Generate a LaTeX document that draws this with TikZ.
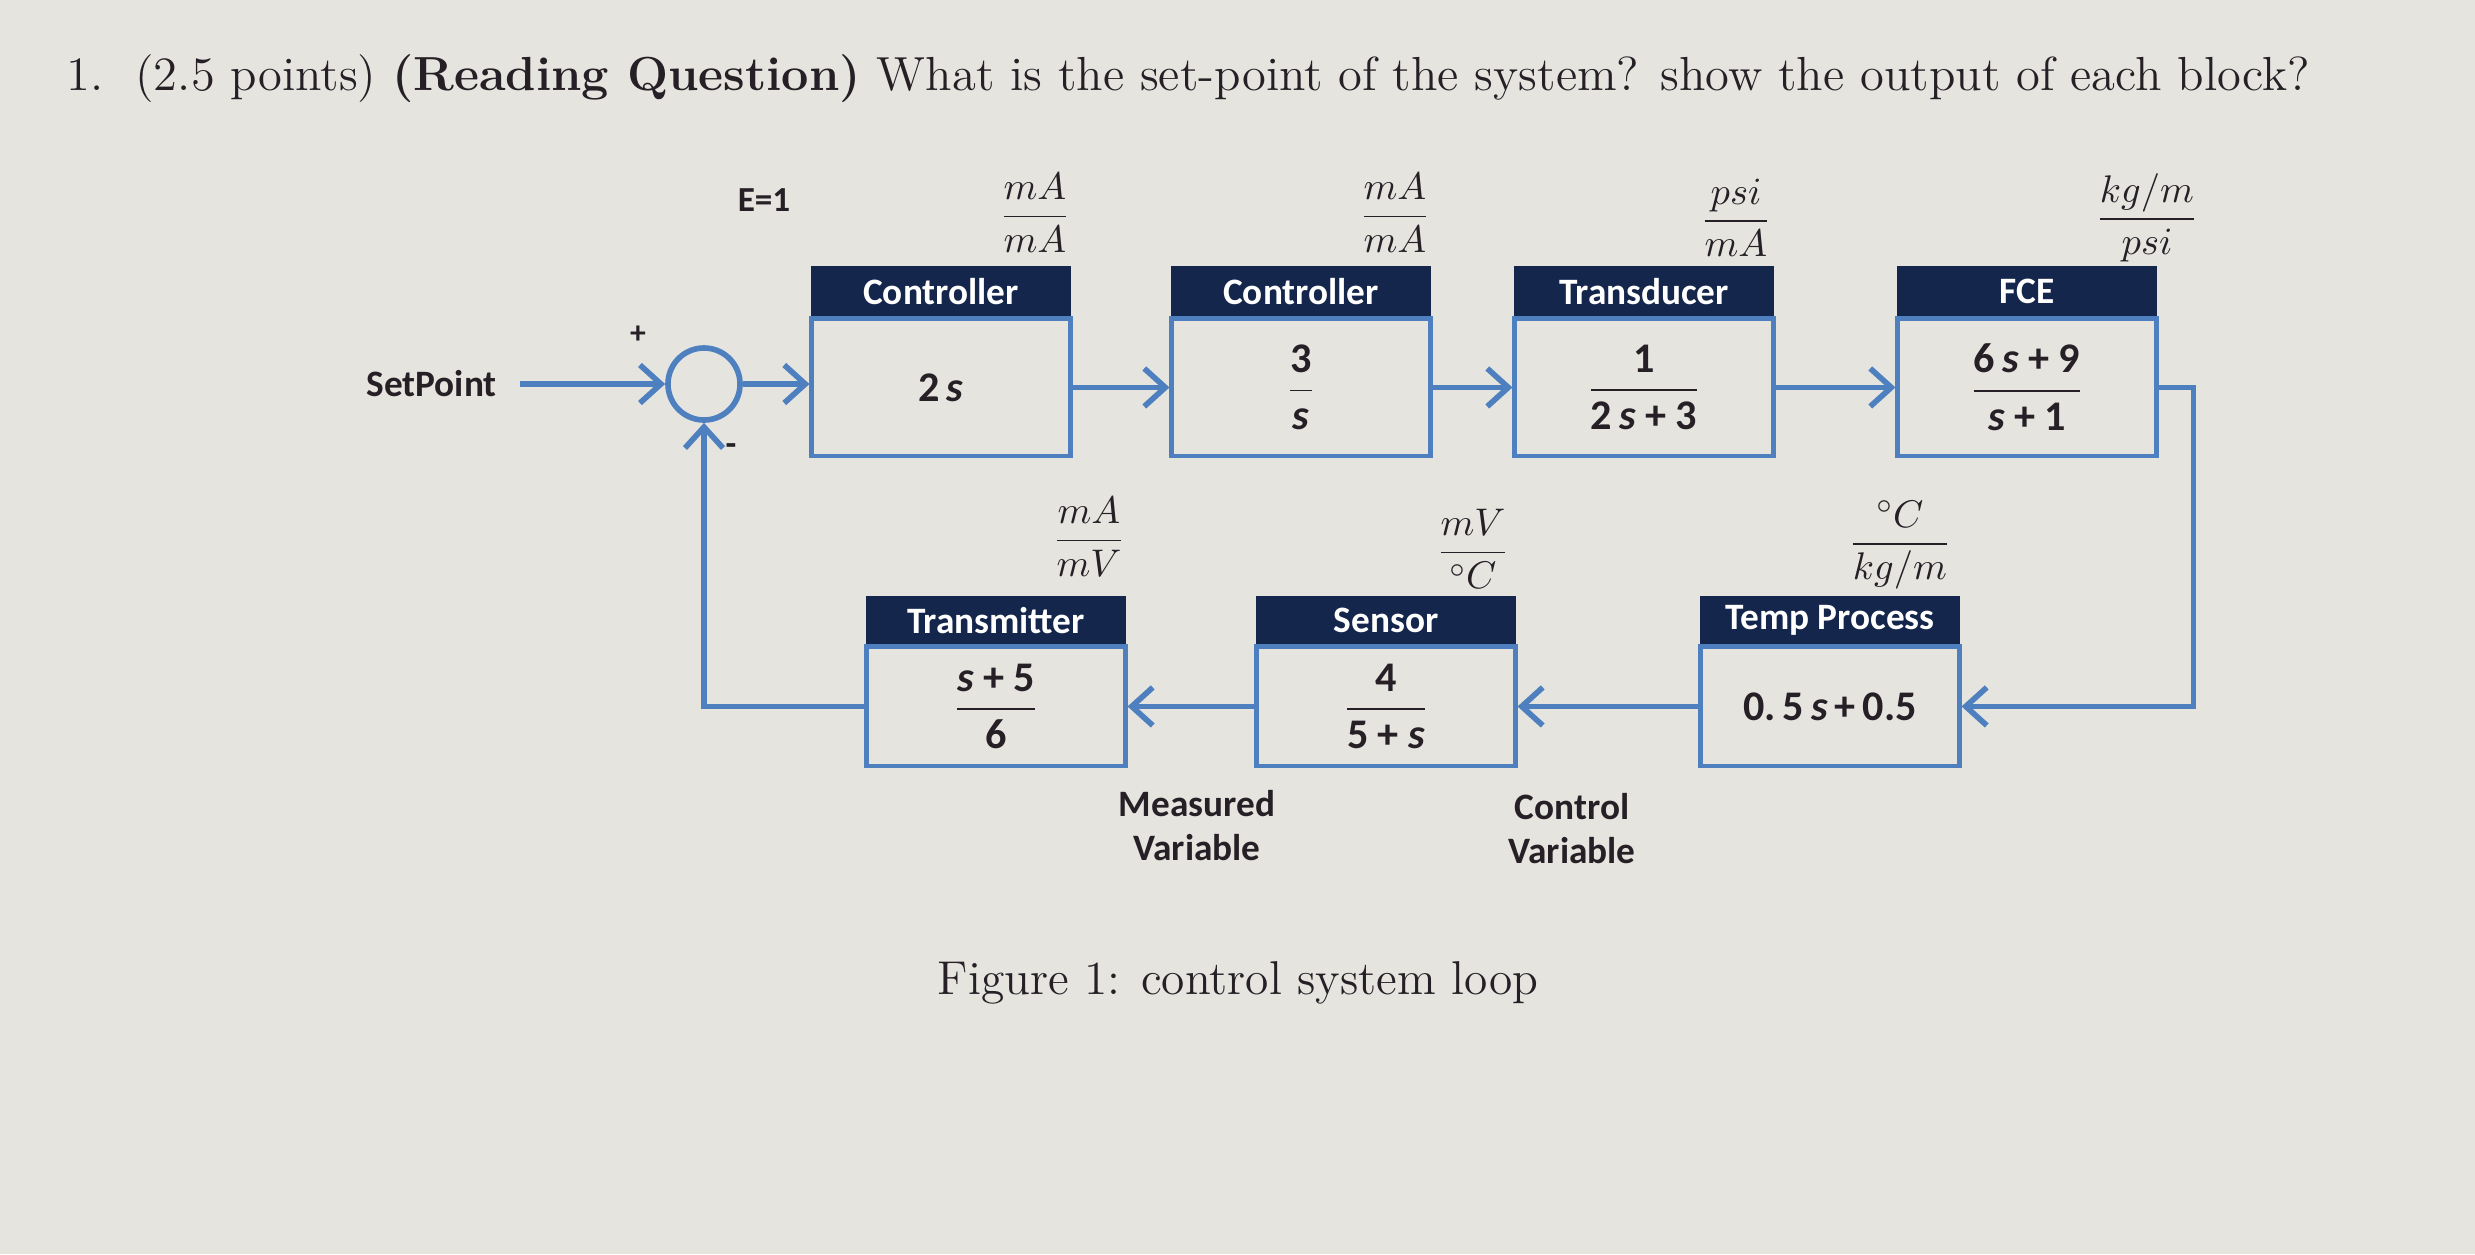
\documentclass[tikz,border=0pt]{standalone}
\usepackage{fontspec}
\usepackage{amsmath}
\usetikzlibrary{arrows.meta,calc}
\newfontfamily\carlito{Carlito}
\definecolor{bgc}{RGB}{229,228,223}
\definecolor{navy}{RGB}{20,38,75}
\definecolor{lblue}{RGB}{78,128,192}
\definecolor{ink}{RGB}{38,32,38}
\newcommand{\sv}{\textit{s}}
\tikzset{
  hdr/.style={fill=navy, draw=navy, minimum width=2.58cm, minimum height=0.49cm, inner sep=0pt,
    text=white, font=\carlito\bfseries\fontsize{10.6}{12}\selectfont, anchor=north},
  blk/.style={draw=lblue, line width=1.4pt, minimum width=2.58cm, minimum height=1.37cm, inner sep=0pt,
    text=ink, font=\carlito\bfseries\fontsize{12}{14}\selectfont, anchor=north},
  blklow/.style={blk, minimum height=1.19cm},
  ln/.style={draw=lblue, line width=1.6pt},
  arr/.style={ln, -{Straight Barb[length=2.1mm,width=3.8mm]}},
  unitlbl/.style={text=ink, font=\fontsize{11}{13}\selectfont, inner sep=0pt},
  lbl/.style={text=ink, font=\carlito\bfseries\fontsize{10.6}{12.5}\selectfont, align=center},
}
\begin{document}
\begin{tikzpicture}[x=0.01cm, y=-0.01cm]
\fill[bgc] (0,0) rectangle (2475,1254);
\useasboundingbox (0,0) rectangle (2475,1254);

% title
\node[anchor=west, text=ink, inner sep=0pt, font=\fontsize{13.6}{16}\selectfont] (title) at (66,79)
  {\resizebox{22.42cm}{\height}{1.\ \ (2.5 points) \textbf{(Reading Question)} What is the set-point of the system? show the output of each block?}};

% top row
\node[hdr] (c1h) at (941,266) {Controller};
\node[blk] (c1) at (c1h.south) {2\,\sv};
\node[hdr] (c2h) at (1301,266) {Controller};
\node[blk] (c2) at (c2h.south) {$\dfrac{\text{3}}{\text{\sv}}$};
\node[hdr] (trh) at (1644,266) {Transducer};
\node[blk] (tr) at (trh.south) {$\dfrac{\text{1}}{\text{2\,\sv\:+\:3}}$};
\node[hdr] (fceh) at (2027,266) {FCE};
\node[blk] (fce) at (fceh.south) {$\dfrac{\text{6\,\sv\:+\:9}}{\text{\sv\:+\:1}}$};

% bottom row
\node[hdr, minimum height=0.47cm] (trmh) at (996,596) {Transmitter};
\node[blklow] (trm) at (trmh.south) {$\dfrac{\text{\sv\:+\:5}}{\text{6}}$};
\node[hdr, minimum height=0.47cm] (senh) at (1386,596) {Sensor};
\node[blklow] (sen) at (senh.south) {$\dfrac{\text{4}}{\text{5\:+\:\sv}}$};
\node[hdr, minimum height=0.47cm] (tmph) at (1830,596) {Temp Process};
\node[blklow] (tmp) at (tmph.south) {0.\,5\,\sv\,+\,0.5};

% unit labels
\node[unitlbl] (u1) at (1035,213) {$\dfrac{mA}{mA}$};
\node[unitlbl] (u2) at (1395,213) {$\dfrac{mA}{mA}$};
\node[unitlbl] (u3) at (1736,218) {$\dfrac{psi}{mA}$};
\node[unitlbl] (u4) at (2147,218) {$\dfrac{kg/m}{psi}$};
\node[unitlbl] (u5) at (1089,537) {$\dfrac{mA}{mV}$};
\node[unitlbl] (u6) at (1473,549) {$\dfrac{mV}{{}^{\circ}C}$};
\node[unitlbl] (u7) at (1900,545) {$\dfrac{{}^{\circ}C}{kg/m}$};

% summing junction and labels
\node[circle, draw=lblue, line width=1.6pt, minimum size=0.72cm, inner sep=0pt] (sum) at (704,384) {};
\node[lbl, anchor=east] (sp) at (509,384) {SetPoint};
\node[lbl, font=\carlito\bfseries\fontsize{10}{12}\selectfont] (e1) at (764,200) {E=1};
\node[lbl, font=\carlito\bfseries\fontsize{9}{10}\selectfont] (plus) at (638,335) {+};
\node[lbl, font=\carlito\bfseries\fontsize{10}{10}\selectfont] (minus) at (731,450) {-};
\node[lbl] (mv) at (1197,826) {Measured\\Variable};
\node[lbl] (cv) at (1572,829) {Control\\Variable};

% caption
\node[text=ink, inner sep=0pt, font=\fontsize{13.5}{16}\selectfont] (cap) at (1238,983) {Figure 1: control system loop};

% connectors
\draw[arr, shorten <=3pt] (sp.east) -- (sum.west);
\draw[arr] (sum.east) -- (sum.east -| c1.west);
\draw[arr] (c1.east) -- (c1.east -| c2.west);
\draw[arr] (c2.east) -- (c2.east -| tr.west);
\draw[arr] (tr.east) -- (tr.east -| fce.west);
\coordinate (fceout) at ($(fce.east)+(35,0)$);
\draw[arr] (fce.east) -- (fceout) |- (tmp.east);
\draw[arr] (tmp.west) -- (tmp.west -| sen.east);
\draw[arr] (sen.west) -- (sen.west -| trm.east);
\draw[arr] (trm.west) -| (sum.south);
\end{tikzpicture}
\end{document}
